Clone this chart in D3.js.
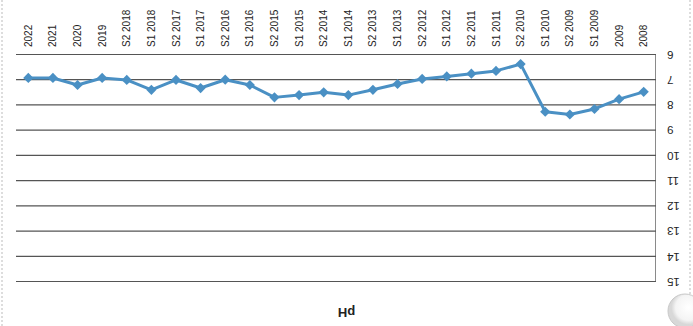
<!DOCTYPE html>
<html>
<head>
<meta charset="utf-8">
<script src="https://cdn.jsdelivr.net/npm/d3@7"></script>
<style>
  html, body { margin: 0; padding: 0; background: #fff; }
  svg { display: block; }
</style>
</head>
<body>
<svg id="chart" width="693" height="326"></svg>
<script>
// ---- data (original chart order, left to right) ----
const categories = ["2008", "2009", "S1 2009", "S2 2009", "S1 2010", "S2 2010", "S1 2011", "S2 2011",
  "S1 2012", "S2 2012", "S1 2013", "S2 2013", "S1 2014", "S2 2014", "S1 2015", "S2 2015",
  "S1 2016", "S2 2016", "S1 2017", "S2 2017", "S1 2018", "S2 2018", "2019", "2020", "2021", "2022"];
const phValues = [7.46, 7.75, 8.14, 8.36, 8.25, 6.36, 6.63, 6.74, 6.85, 6.95, 7.15, 7.38,
  7.59, 7.48, 7.59, 7.68, 7.19, 6.98, 7.31, 6.99, 7.38, 6.99, 6.91, 7.19, 6.91, 6.91];
const yTicks = [6, 7, 8, 9, 10, 11, 12, 13, 14, 15];
const chartTitle = "pH";

const W = 693, H = 326;
const svg = d3.select("#chart");
svg.append("rect").attr("width", W).attr("height", H).attr("fill", "#fff");

// The reference photograph shows the chart turned upside down (rotated 180°)
const g = svg.append("g").attr("transform", `rotate(180 ${W / 2} ${H / 2})`);

const plot = { left: 37, right: 677, top: 44, bottom: 271 };

const x = d3.scaleBand().domain(categories).range([plot.left, plot.right]);
const y = d3.scaleLinear().domain([6, 15]).range([plot.bottom, plot.top]);

// y axis + gridlines
const yAxis = g.append("g")
  .attr("transform", `translate(${plot.left},0)`)
  .call(d3.axisLeft(y).tickValues(yTicks).tickSize(-(plot.right - plot.left)).tickSizeOuter(0).tickPadding(11));
yAxis.select(".domain").attr("stroke", "#8a8a8a").attr("stroke-width", 1);
yAxis.selectAll(".tick line").attr("stroke", "#555").attr("stroke-width", 1.2);
yAxis.selectAll(".tick text")
  .attr("font-family", "Liberation Sans, Arial, sans-serif")
  .attr("font-size", 11.5)
  .attr("fill", "#222");

// x axis labels (vertical)
const xAxis = g.append("g")
  .attr("transform", `translate(0,${plot.bottom})`)
  .call(d3.axisBottom(x).tickSize(0).tickPadding(0));
xAxis.select(".domain").remove();
xAxis.selectAll(".tick text")
  .attr("font-family", "Liberation Sans, Arial, sans-serif")
  .attr("font-size", 10)
  .attr("fill", "#222")
  .attr("text-anchor", "start")
  .attr("transform", "translate(0,8) rotate(90)")
  .attr("x", 0).attr("y", 0).attr("dy", "0.35em");

// line
const cx = (d, i) => x(categories[i]) + x.bandwidth() / 2;
const lineColor = "#4a90c4";
g.append("path")
  .datum(phValues)
  .attr("fill", "none")
  .attr("stroke", lineColor)
  .attr("stroke-width", 3)
  .attr("stroke-linejoin", "round")
  .attr("d", d3.line().x(cx).y(d => y(d)));

// diamond markers
g.selectAll(".mk").data(phValues).enter().append("path")
  .attr("class", "mk")
  .attr("d", d3.symbol().type(d3.symbolSquare).size(52))
  .attr("fill", lineColor)
  .attr("transform", (d, i) => `translate(${cx(d, i)},${y(d)}) rotate(45)`);

// title
g.append("text")
  .attr("x", 346.5).attr("y", 18)
  .attr("text-anchor", "middle")
  .attr("font-family", "Liberation Sans, Arial, sans-serif")
  .attr("font-weight", "bold")
  .attr("font-size", 13)
  .attr("fill", "#222")
  .text(chartTitle);

// scan artifacts (page edges and a punched hole)
svg.append("line").attr("x1", 2).attr("x2", 2).attr("y1", 0).attr("y2", H)
  .attr("stroke", "#bbb").attr("stroke-dasharray", "2,2");
svg.append("line").attr("x1", 690).attr("x2", 690).attr("y1", 0).attr("y2", H)
  .attr("stroke", "#bbb").attr("stroke-dasharray", "2,2");
const defs = svg.append("defs");
const rg = defs.append("radialGradient").attr("id", "hole").attr("cx", "60%").attr("cy", "40%");
rg.append("stop").attr("offset", "0%").attr("stop-color", "#fff");
rg.append("stop").attr("offset", "75%").attr("stop-color", "#f4f4f4");
rg.append("stop").attr("offset", "100%").attr("stop-color", "#d8d8d8");
svg.append("circle").attr("cx", 685).attr("cy", 311).attr("r", 17)
  .attr("fill", "url(#hole)").attr("stroke", "#c8c8c8").attr("stroke-width", 1);
</script>
</body>
</html>
